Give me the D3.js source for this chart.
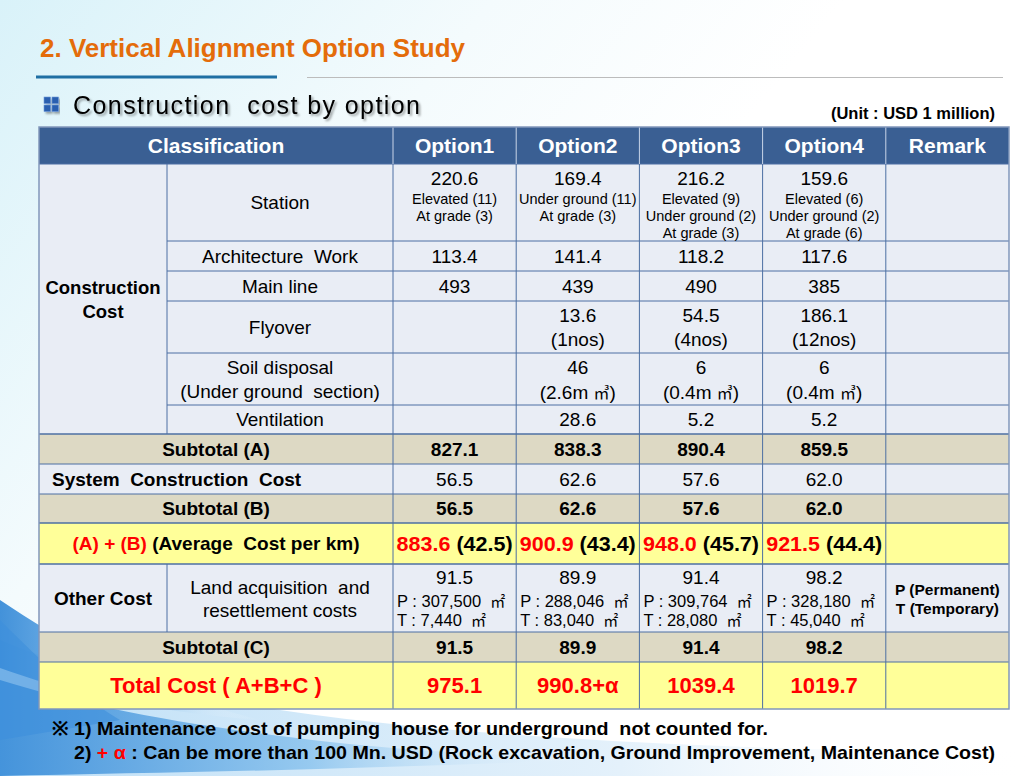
<!DOCTYPE html>
<html><head><meta charset="utf-8">
<script src="https://cdn.jsdelivr.net/npm/d3@7"></script>
<style>
html,body{margin:0;padding:0;background:#fff;}
svg{display:block;font-family:Arial,"Liberation Sans",sans-serif;}
</style>
</head><body>
<svg id="chart" width="1036" height="776"></svg>
<script>
// ---------------- DATA ----------------
const options = ["Option1", "Option2", "Option3", "Option4"];
const stationCost = [220.6, 169.4, 216.2, 159.6];
const stationMix = [
  ["Elevated (11)", "At grade (3)"],
  ["Under ground (11)", "At grade (3)"],
  ["Elevated (9)", "Under ground (2)", "At grade (3)"],
  ["Elevated (6)", "Under ground (2)", "At grade (6)"]
];
const architectureWork = [113.4, 141.4, 118.2, 117.6];
const mainLine = [493, 439, 490, 385];
const flyover = [null, 13.6, 54.5, 186.1];
const flyoverCount = [null, "1nos", "4nos", "12nos"];
const soilDisposal = [null, 46, 6, 6];
const soilVolume = [null, "2.6m", "0.4m", "0.4m"];
const ventilation = [null, 28.6, 5.2, 5.2];
const subtotalA = [827.1, 838.3, 890.4, 859.5];
const systemCost = [56.5, 62.6, 57.6, 62.0];
const subtotalB = [56.5, 62.6, 57.6, 62.0];
const sumAB = [883.6, 900.9, 948.0, 921.5];
const costPerKm = [42.5, 43.4, 45.7, 44.4];
const landCost = [91.5, 89.9, 91.4, 98.2];
const permanentArea = ["307,500", "288,046", "309,764", "328,180"];
const temporaryArea = ["7,440", "83,040", "28,080", "45,040"];
const subtotalC = [91.5, 89.9, 91.4, 98.2];
const totalCost = ["975.1", "990.8+α", "1039.4", "1019.7"];

// ---------------- LAYOUT ----------------
const svg = d3.select("#chart");
const f1 = d3.format(".1f");

const defs = svg.append("defs");
const bg = defs.append("linearGradient").attr("id", "bgGrad").attr("x1", 0).attr("y1", 0).attr("x2", 1).attr("y2", 0.6);
bg.append("stop").attr("offset", "0").attr("stop-color", "#d9f2f9");
bg.append("stop").attr("offset", "0.35").attr("stop-color", "#f4fbfd");
bg.append("stop").attr("offset", "0.6").attr("stop-color", "#ffffff");
const sw1 = defs.append("linearGradient").attr("id", "sw1").attr("x1", 0).attr("y1", 0).attr("x2", 1).attr("y2", 0);
sw1.append("stop").attr("offset", "0").attr("stop-color", "#2f86d6");
sw1.append("stop").attr("offset", "0.5").attr("stop-color", "#8cc4ee");
sw1.append("stop").attr("offset", "1").attr("stop-color", "#ffffff").attr("stop-opacity", 0);
const sw2 = defs.append("linearGradient").attr("id", "sw2").attr("x1", 0).attr("y1", 0).attr("x2", 1).attr("y2", 0);
sw2.append("stop").attr("offset", "0").attr("stop-color", "#bfe0f7");
sw2.append("stop").attr("offset", "0.6").attr("stop-color", "#e4f1fb");
sw2.append("stop").attr("offset", "1").attr("stop-color", "#ffffff").attr("stop-opacity", 0);
const shadow = defs.append("filter").attr("id", "shadow").attr("x", "-5%").attr("y", "-20%").attr("width", "115%").attr("height", "160%");
shadow.append("feDropShadow").attr("dx", 2).attr("dy", 2).attr("stdDeviation", 1.2).attr("flood-color", "#000").attr("flood-opacity", 0.35);

svg.append("rect").attr("width", 1036).attr("height", 776).attr("fill", "url(#bgGrad)");
// bottom-left swooshes
svg.append("path").attr("d", "M0,640 C120,690 300,720 520,735 C700,748 880,752 1036,750 L1036,776 L0,776 Z").attr("fill", "url(#sw2)");
svg.append("path").attr("d", "M0,600 C60,640 140,690 260,720 C150,712 60,690 0,668 Z").attr("fill", "url(#sw1)").attr("opacity", 0.9);
svg.append("path").attr("d", "M0,680 C80,705 180,725 330,742 C420,752 520,757 620,758 C420,768 200,772 0,776 Z").attr("fill", "url(#sw1)").attr("opacity", 0.85);
svg.append("path").attr("d", "M0,620 C30,650 70,690 120,720 L0,740 Z").attr("fill", "#3d8fdc").attr("opacity", 0.6);

// title
svg.append("text").attr("x", 40).attr("y", 57).attr("fill", "#e46c0a")
  .attr("font-size", 26).attr("font-weight", "bold").attr("textLength", 425).attr("lengthAdjust", "spacingAndGlyphs")
  .text("2. Vertical Alignment Option Study");
svg.append("line").attr("x1", 36).attr("x2", 277).attr("y1", 77).attr("y2", 77).attr("stroke", "#1f6fa3").attr("stroke-width", 3);
svg.append("line").attr("x1", 307).attr("x2", 1003).attr("y1", 77.5).attr("y2", 77.5).attr("stroke", "#bcbcbc").attr("stroke-width", 1);

// subtitle with icon
const icon = svg.append("g").attr("filter", "url(#shadow)");
[[44, 97], [52, 97], [44, 105], [52, 105]].forEach(p => {
  icon.append("rect").attr("x", p[0]).attr("y", p[1]).attr("width", 6.5).attr("height", 6.5).attr("fill", "#2a5fb0").attr("stroke", "#6e9ad8").attr("stroke-width", 0.6);
});
svg.append("text").attr("x", 73).attr("y", 114).attr("font-size", 25).attr("fill", "#000").attr("filter", "url(#shadow)")
  .attr("textLength", 347).attr("lengthAdjust", "spacing").attr("xml:space", "preserve")
  .text("Construction  cost by option");
svg.append("text").attr("x", 995).attr("y", 119).attr("text-anchor", "end").attr("font-size", 16.5).attr("font-weight", "bold")
  .text("(Unit : USD 1 million)");

// table geometry
const tableLeft = 39, tableRight = 1009, splitX = 167, optStart = 393;
const colX = d3.scaleBand().domain([...options, "Remark"]).range([optStart, tableRight]);
const rowKeys = ["header", "station", "arch", "main", "flyover", "soil", "vent", "subA", "system", "subB", "ab", "other", "subC", "total"];
const rowH = [37, 77, 30, 30, 52, 52, 29, 30, 30, 29, 41, 68, 30, 47];
const tops = rowH.reduce((a, h) => { a.push(a[a.length - 1] + h); return a; }, [127]);
const rowY = d3.scaleOrdinal().domain(rowKeys).range(tops.slice(0, -1));
const rowHt = d3.scaleOrdinal().domain(rowKeys).range(rowH);
const tableBottom = tops[tops.length - 1];
const fills = { header: "#3a5f93", subA: "#ddd9c4", subB: "#ddd9c4", subC: "#ddd9c4", ab: "#ffff99", total: "#ffff99" };

const table = svg.append("g");
table.selectAll("rect.row").data(rowKeys).join("rect").attr("class", "row")
  .attr("x", tableLeft).attr("y", d => rowY(d)).attr("width", tableRight - tableLeft).attr("height", d => rowHt(d))
  .attr("fill", d => fills[d] || "#e9edf5");

const lineColor = "#4c6fa3";
rowKeys.slice(1).forEach(k => {
  const inner = ["arch", "main", "flyover", "soil", "vent"].includes(k);
  table.append("line").attr("x1", inner ? splitX : tableLeft).attr("x2", tableRight)
    .attr("y1", rowY(k)).attr("y2", rowY(k)).attr("stroke", lineColor).attr("stroke-width", k === "subA" || k === "ab" || k === "other" ? 1.6 : 1);
});
[...options, "Remark"].forEach(k => {
  table.append("line").attr("x1", colX(k)).attr("x2", colX(k)).attr("y1", rowY("station")).attr("y2", tableBottom).attr("stroke", lineColor);
  table.append("line").attr("x1", colX(k)).attr("x2", colX(k)).attr("y1", rowY("header")).attr("y2", rowY("station")).attr("stroke", "#c9d5e8");
});
table.append("line").attr("x1", splitX).attr("x2", splitX).attr("y1", rowY("station")).attr("y2", rowY("subA")).attr("stroke", lineColor);
table.append("line").attr("x1", splitX).attr("x2", splitX).attr("y1", rowY("other")).attr("y2", rowY("subC")).attr("stroke", lineColor);
table.append("rect").attr("x", tableLeft).attr("y", rowY("header")).attr("width", tableRight - tableLeft).attr("height", tableBottom - rowY("header"))
  .attr("fill", "none").attr("stroke", "#8197bb").attr("stroke-width", 1.5);

// text helpers
const T = svg.append("g");
function txt(x, y, s, o = {}) {
  const t = T.append("text").attr("x", x).attr("y", y).attr("dy", "0.36em")
    .attr("text-anchor", o.anchor || "middle").attr("font-size", o.size || 19)
    .attr("font-weight", o.bold ? "bold" : "normal").attr("fill", o.color || "#000")
    .attr("xml:space", "preserve");
  if (o.len) t.attr("textLength", o.len).attr("lengthAdjust", "spacingAndGlyphs");
  if (Array.isArray(s)) {
    s.forEach(p => {
      const ts = t.append("tspan").text(p.t).attr("fill", p.c || o.color || "#000");
      if (p.size) ts.attr("font-size", p.size);
      if (p.font) ts.attr("font-family", p.font);
    });
  } else t.text(s);
  return t;
}
const cx = k => colX(k) + colX.bandwidth() / 2;
const cy = k => rowY(k) + rowHt(k) / 2;
const labX = (tableLeft + optStart) / 2, subX = (splitX + optStart) / 2, c0X = (tableLeft + splitX) / 2;

// header
txt(labX, cy("header"), "Classification", { bold: true, size: 21, color: "#fff" });
[...options, "Remark"].forEach(k => txt(cx(k), cy("header"), k, { bold: true, size: 21, color: "#fff" }));

// left labels
txt(c0X, 287, "Construction", { bold: true, size: 18.5 });
txt(c0X, 311, "Cost", { bold: true, size: 18.5 });
txt(subX, cy("station"), "Station");
txt(subX, cy("arch"), "Architecture  Work");
txt(subX, cy("main"), "Main line");
txt(subX, cy("flyover"), "Flyover");
txt(subX, 367, "Soil disposal");
txt(subX, 391, "(Under ground  section)");
txt(subX, cy("vent"), "Ventilation");
txt(labX, cy("subA"), "Subtotal (A)", { bold: true });
txt(52, cy("system"), "System  Construction  Cost", { bold: true, anchor: "start" });
txt(labX, cy("subB"), "Subtotal (B)", { bold: true });
txt(labX, cy("ab"), [{ t: "(A) + (B)", c: "#ff0000" }, { t: " (Average  Cost per km)" }], { bold: true });
txt(c0X, cy("other"), "Other Cost", { bold: true });
txt(subX, 587, "Land acquisition  and");
txt(subX, 610, "resettlement costs");
txt(labX, cy("subC"), "Subtotal (C)", { bold: true });
txt(labX, cy("total"), "Total Cost ( A+B+C )", { bold: true, size: 22, color: "#ff0000" });

// option values
const stY0 = rowY("station");
options.forEach((o, i) => {
  const x = cx(o);
  txt(x, stY0 + 14, f1(stationCost[i]));
  stationMix[i].forEach((s, j) => txt(x, stY0 + 35 + j * 17, s, { size: 14.5 }));
  txt(x, cy("arch"), f1(architectureWork[i]));
  txt(x, cy("main"), d3.format("d")(mainLine[i]));
  if (flyover[i] != null) {
    txt(x, 315, f1(flyover[i]));
    txt(x, 339, "(" + flyoverCount[i] + ")");
  }
  if (soilDisposal[i] != null) {
    txt(x, 367, String(soilDisposal[i]));
    txt(x, 392, [{ t: "(" + soilVolume[i] + " " }, { t: "㎥", size: 16, font: "Noto Sans CJK KR" }, { t: ")" }]);
  }
  if (ventilation[i] != null) txt(x, cy("vent"), f1(ventilation[i]));
  txt(x, cy("subA"), f1(subtotalA[i]), { bold: true });
  txt(x, cy("system"), f1(systemCost[i]));
  txt(x, cy("subB"), f1(subtotalB[i]), { bold: true });
  txt(x, cy("ab"), [{ t: f1(sumAB[i]), c: "#ff0000" }, { t: " (" + f1(costPerKm[i]) + ")" }], { bold: true, size: 20.5, len: 116 });
  txt(x, 577, f1(landCost[i]));
  const lx = colX(o) + 4;
  txt(lx, 601, [{ t: "P : " + permanentArea[i] + "  " }, { t: "㎡", size: 15, font: "Noto Sans CJK KR" }], { anchor: "start", size: 16.5 });
  txt(lx, 620, [{ t: "T : " + temporaryArea[i] + "  " }, { t: "㎡", size: 15, font: "Noto Sans CJK KR" }], { anchor: "start", size: 16.5 });
  txt(x, cy("subC"), f1(subtotalC[i]), { bold: true });
  txt(x, cy("total"), totalCost[i], { bold: true, size: 22, color: "#ff0000" });
});
txt(cx("Remark"), 589, "P (Permanent)", { bold: true, size: 15.5 });
txt(cx("Remark"), 608, "T (Temporary)", { bold: true, size: 15.5 });

// footnotes
txt(52, 728, "※ 1) Maintenance  cost of pumping  house for underground  not counted for.", { anchor: "start", bold: true, size: 19, len: 716 });
txt(74, 752, [{ t: "2) " }, { t: "+ α", c: "#ff0000" }, { t: " : Can be more than 100 Mn. USD (Rock excavation, Ground Improvement, Maintenance Cost)" }], { anchor: "start", bold: true, size: 19, len: 921 });
</script>
</body></html>
